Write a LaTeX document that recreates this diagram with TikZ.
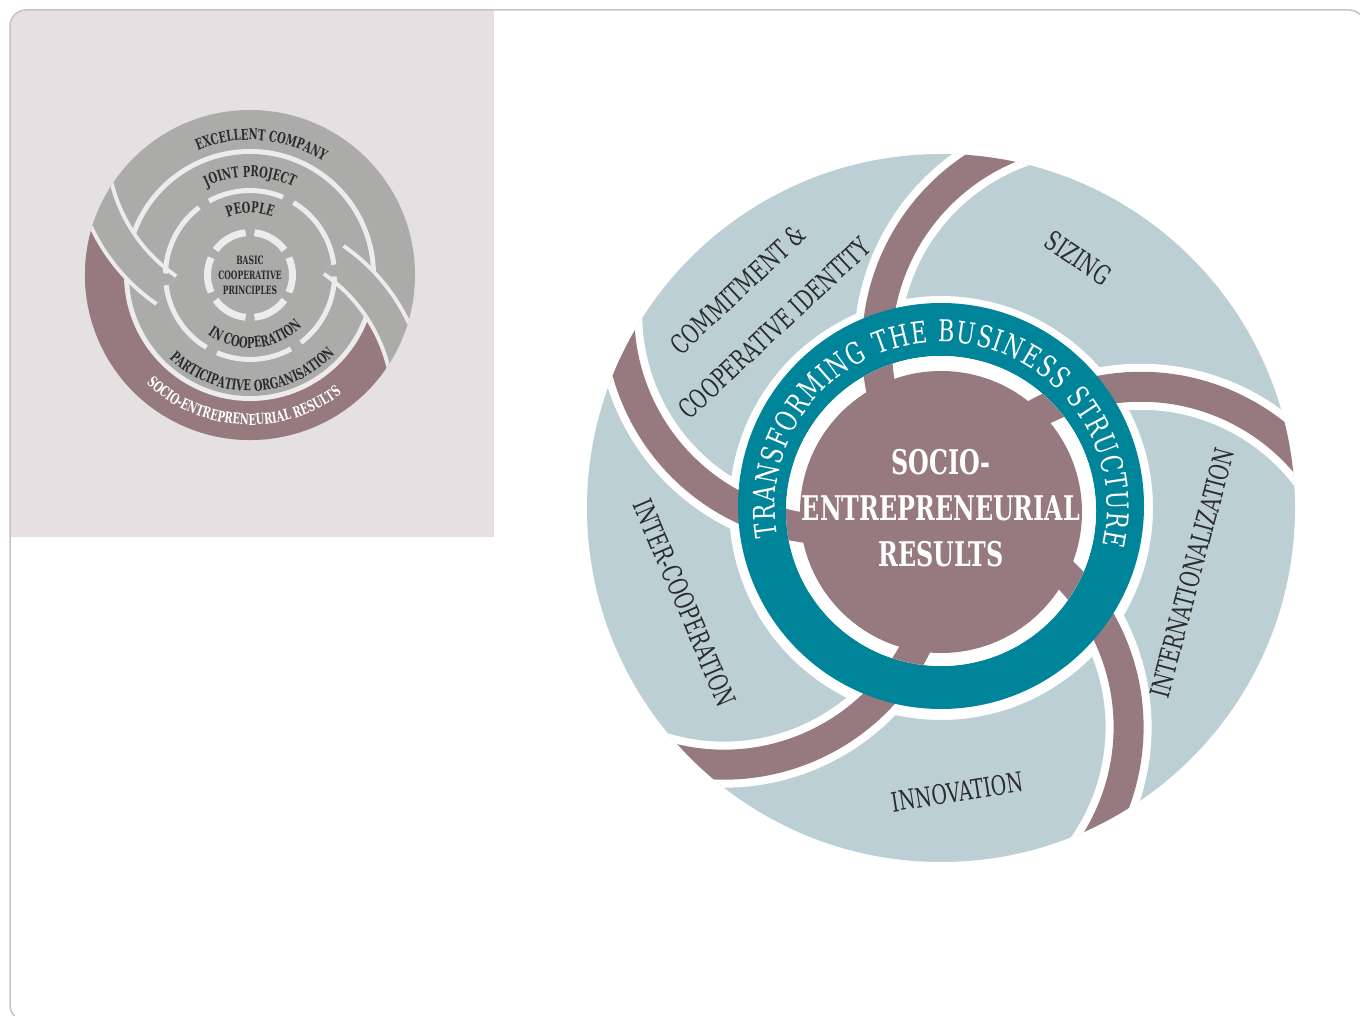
\documentclass[tikz,border=0pt]{standalone}
\usepackage{fontspec}
\usetikzlibrary{calc}
\usetikzlibrary{decorations.text}

\newfontfamily\labelfont[FakeStretch=0.70]{DejaVu Serif}
\newfontfamily\bannerfont[FakeStretch=0.74]{DejaVu Serif}
\newfontfamily\heavyfont[FakeStretch=0.70]{DejaVu Serif}
\newfontfamily\tinyfont[FakeStretch=0.66]{DejaVu Serif}

\definecolor{ringblue}{HTML}{BCCFD5}
\definecolor{armpurple}{HTML}{967A80}
\definecolor{ringteal}{HTML}{00849A}
\definecolor{panelgray}{HTML}{E5E0E1}
\definecolor{gapwhite}{HTML}{EEEBEC}
\definecolor{bandgray}{HTML}{ABABAA}
\definecolor{inkdark}{HTML}{2B2B2B}
\definecolor{framegray}{HTML}{CBBFC5}

\begin{document}
\begin{tikzpicture}[
    x=1pt, y=1pt,
    segtext/.style={font=\labelfont\fontsize{27}{30}\selectfont, text=inkdark, inner sep=0pt, align=center},
    armcase/.style={line width=46, white},
    arm/.style={line width=30, armpurple},
    minicase/.style={line width=38, gapwhite},
    miniarm/.style={line width=30, bandgray},
    gapring/.style={gapwhite, line width=6},
    ringtext/.style={decorate, decoration={text along path, text align=center, text color=inkdark,
        text={|\tinyfont\bfseries\fontsize{15}{15}\selectfont|#1}}}
]
    \useasboundingbox (0,0) rectangle (1360,1015);

    % --- Frame and side panel
    \begin{scope}
        \clip[rounded corners=16] (10,-6) rectangle (1365,1005);
        \fill[panelgray] (10,478) rectangle (494,1005);
    \end{scope}
    \draw[framegray, line width=1.5, rounded corners=16] (10,-6) rectangle (1365,1005);

    % --- Big wheel: outer ring
    \coordinate (O) at (941,507);
    \fill[ringblue, even odd rule] (O) circle[radius=354] (O) circle[radius=212];

    % --- Big wheel: spiral arms
    \begin{scope}
        \clip (O) circle[radius=354];
        \foreach \k in {0,...,4}{
            \begin{scope}[shift={(O)}, rotate=72*\k]
                \draw[armcase] (61.2,70.8) arc[start angle=130, end angle=30, radius=215.6];
                \draw[arm] (61.2,70.8) arc[start angle=130, end angle=30, radius=215.6];
            \end{scope}
        }
    \end{scope}

    % --- Big wheel: teal ring and core
    \fill[ringteal, even odd rule] (941,509) circle[radius=203] (941,504) circle[radius=155];
    \fill[white] (941,504) circle[radius=155];
    \begin{scope}
        \clip (941,504) circle[radius=155];
        \foreach \k in {0,...,4}{
            \draw[arm, shift={(O)}, rotate=72*\k] (61.2,70.8) arc[start angle=130, end angle=30, radius=215.6];
        }
    \end{scope}
    \fill[armpurple] (941,503) circle[radius=141];

    \path[decorate, decoration={text along path, text align=fit to path, text color=white,
        text={|\bannerfont\fontsize{30}{30}\selectfont|TRANSFORMING THE BUSINESS STRUCTURE}}]
        ($(O)+(190:166)$) arc[start angle=190, end angle=-13, radius=166];

    \node[font=\heavyfont\bfseries\fontsize{34}{46}\selectfont, text=white, align=center] (core) at (941,507)
        {SOCIO-\\ENTREPRENEURIAL\\RESULTS};

    % --- Big wheel: segment labels
    \node[segtext, rotate=43] (commit) at (756,706) {COMMITMENT \&\\[23pt]COOPERATIVE IDENTITY};
    \node[segtext, rotate=-34] (sizing) at (1078,757) {SIZING};
    \node[segtext, rotate=75] (intl) at (1192,442) {INTERNATIONALIZATION};
    \node[segtext, rotate=9] (innov) at (957,223) {INNOVATION};
    \node[segtext, rotate=-67] (intercoop) at (685,412) {INTER-COOPERATION};

    % --- Small wheel (top left)
    \coordinate (S) at (250,740);
    \fill[bandgray, even odd rule] (S) circle[radius=165] (S) circle[radius=124];
    \fill[armpurple] ($(S)+(154.9:165)$) arc[start angle=154.9, end angle=334.9, radius=165]
        arc[start angle=19.94, end angle=38.2, radius=176]
        arc[start angle=350.2, end angle=170.2, radius=124]
        arc[start angle=218.2, end angle=199.94, radius=176] -- cycle;
    \fill[gapwhite] (S) circle[radius=126];
    \fill[bandgray] (S) circle[radius=121];

    \begin{scope}
        \clip (S) circle[radius=165];
        \foreach \k in {0,1}{
            \begin{scope}[shift={(S)}, rotate=180*\k]
                \draw[minicase] (-157.3,99.4) arc[start angle=190, end angle=235.5, radius=176];
                \draw[miniarm] (-157.3,99.4) arc[start angle=190, end angle=235.5, radius=176];
            \end{scope}
        }
    \end{scope}

    \foreach \a in {33,93,...,333}
        \draw[gapring, line width=5] ($(S)+(\a-26:84.5)$) arc[start angle=\a-26, end angle=\a+26, radius=84.5];
    \foreach \a in {0,60,...,300}
        \draw[gapring, line width=7] ($(S)+(\a-24:42.5)$) arc[start angle=\a-24, end angle=\a+24, radius=42.5];

    \path[ringtext={EXCELLENT COMPANY}] ($(S)+(145:135)$) arc[start angle=145, end angle=25, radius=135];
    \path[ringtext={JOINT PROJECT}] ($(S)+(150:98)$) arc[start angle=150, end angle=30, radius=98];
    \path[ringtext={PEOPLE}] ($(S)+(150:62)$) arc[start angle=150, end angle=30, radius=62];
    \path[ringtext={IN COOPERATION}] ($(S)+(215:73)$) arc[start angle=215, end angle=335, radius=73];
    \path[ringtext={PARTICIPATIVE ORGANISATION}] ($(S)+(200:116)$) arc[start angle=200, end angle=343, radius=116];
    \path[ringtext={SOCIO-ENTREPRENEURIAL RESULTS}, decoration={text color=white}]
        ($(S)+(207:150)$) arc[start angle=207, end angle=327, radius=150];

    \node[font=\tinyfont\bfseries\fontsize{11.5}{15}\selectfont, text=inkdark, align=center] (basic) at (S)
        {BASIC\\COOPERATIVE\\PRINCIPLES};

\end{tikzpicture}
\end{document}
